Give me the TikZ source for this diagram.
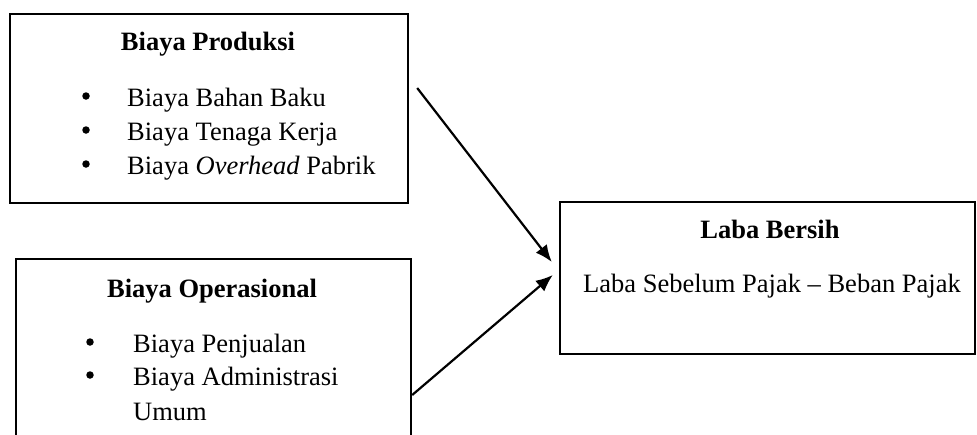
\documentclass[tikz,border=0pt]{standalone}
\usepackage{fontspec}
\setmainfont{Liberation Serif}
\usetikzlibrary{calc,arrows.meta}
\tikzset{
  boxnode/.style={draw=black, line width=2.4pt, rectangle, inner sep=0pt, fill=none},
  txt/.style={inner sep=0pt, font=\fontsize{26.5}{33.5}\selectfont},
  ttl/.style={txt, font=\fontsize{26.5}{33.5}\selectfont\bfseries, anchor=base},
  item/.style={txt, anchor=base west},
  bul/.style={circle, fill=black, draw=none, inner sep=0pt, minimum size=7.5pt},
  conn/.style={line width=2.2pt, -{Latex[length=17pt,width=14pt]}}
}
\begin{document}
\begin{tikzpicture}[x=1pt,y=-1pt]
\clip (0,0) rectangle (977,434);
\fill[white] (0,0) rectangle (977,434);
% boxes
\node[boxnode, minimum width=398pt, minimum height=189pt] (b1) at (209,108.5) {};
\node[boxnode, minimum width=395pt, minimum height=201pt] (b2) at (213.5,359.5) {};
\node[boxnode, minimum width=415pt, minimum height=152pt] (b3) at (767.5,278) {};
% box 1 text
\node[ttl] (t1) at (208,50) {Biaya Produksi};
\node[bul] (p1) at (86,96) {};
\node[bul] (p2) at (86,130) {};
\node[bul] (p3) at (86,164) {};
\node[item] (i1) at (127,106) {Biaya Bahan Baku};
\node[item] (i2) at (127,140) {Biaya Tenaga Kerja};
\node[item] (i3) at (127,174) {Biaya \textit{Overhead} Pabrik};
% box 2 text
\node[ttl] (t2) at (212,297) {Biaya Operasional};
\node[bul] (q1) at (90,342) {};
\node[bul] (q2) at (90,375) {};
\node[item] (j1) at (133,352) {Biaya Penjualan};
\node[item] (j2) at (133,385) {Biaya Administrasi};
\node[item] (j3) at (133,420) {Umum};
% box 3 text
\node[ttl] (t3) at (770,238) {Laba Bersih};
\node[item] (k1) at (583,292) {Laba Sebelum Pajak – Beban Pajak};
% connectors
\coordinate (s1) at ($(b1.east)+(8,-20.5)$);
\coordinate (e1) at ($(b3.west)+(-7,-16)$);
\coordinate (s2) at ($(b2.east)+(0,35.5)$);
\coordinate (e2) at ($(b3.west)+(-6,-3)$);
\draw[conn] (s1) -- (e1);
\draw[conn] (s2) -- (e2);
\end{tikzpicture}
\end{document}
